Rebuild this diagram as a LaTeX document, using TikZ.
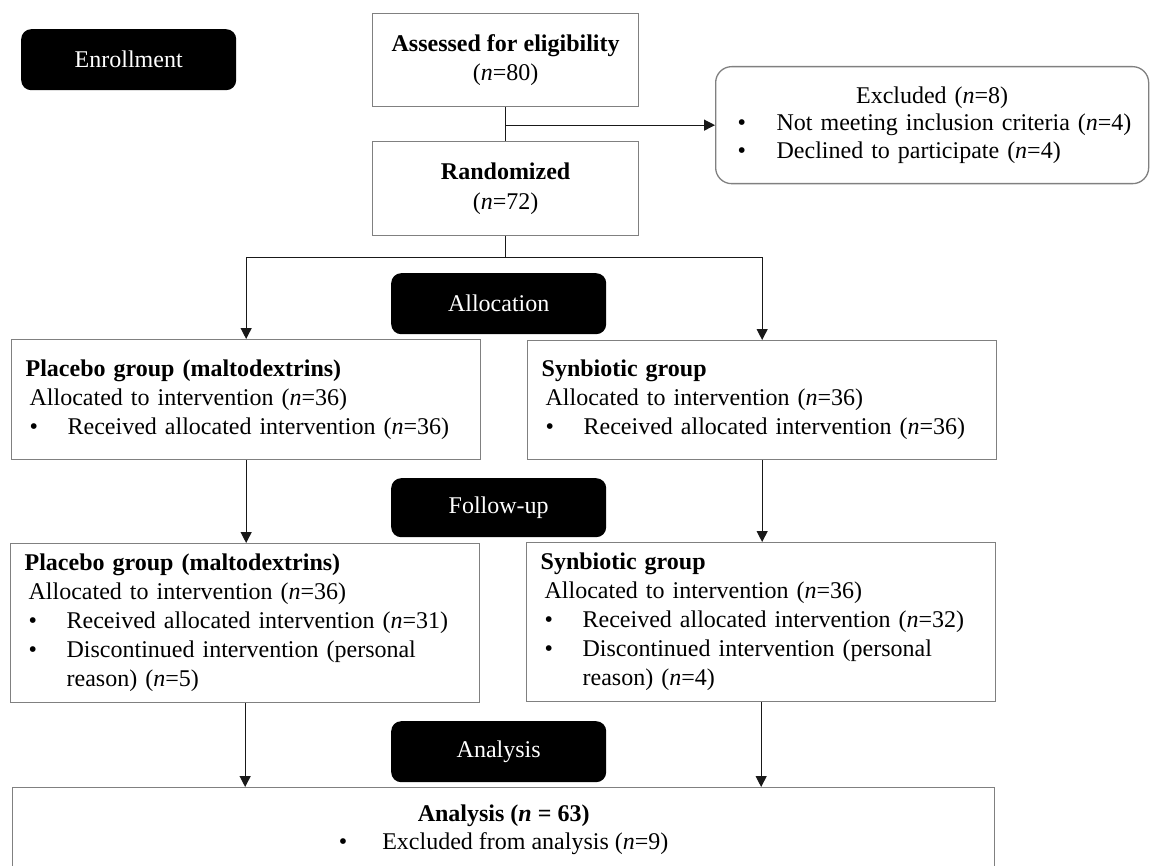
\documentclass[tikz,border=0pt]{standalone}
\usepackage{fontspec}
\setmainfont{Liberation Serif}
\usetikzlibrary{arrows.meta}
\definecolor{boxgray}{RGB}{128,128,128}
\definecolor{linecol}{RGB}{25,25,25}
\begin{document}
\begin{tikzpicture}[x=1pt,y=-1pt,
  txt/.style={font=\fontsize{24}{29}\selectfont},
  box/.style={txt, draw=boxgray, line width=1.3pt, rectangle, inner ysep=0pt, anchor=north west},
  listbox/.style={box, align=left, inner xsep=14pt, text width=441pt},
  stage/.style={txt, fill=black, text=white, rounded corners=10pt, inner sep=0pt, anchor=north west, minimum width=215pt, minimum height=61pt},
  conn/.style={draw=linecol, line width=1.2pt},
  arr/.style={conn, -{Triangle[width=11pt,length=11pt]}}
]
\clip (0,0) rectangle (1150,866);
\fill[white] (0,0) rectangle (1150,866);

% stage labels
\node[stage] (enr) at (21,29) {Enrollment};
\node[stage] (alloc) at (391,273) {Allocation};
\node[stage, minimum height=59pt] (fup) at (391,478) {Follow-up};
\node[stage] (anl) at (391,721) {Analysis};

% enrollment boxes
\node[box, align=center, minimum width=266pt, minimum height=93pt, font=\fontsize{24}{29}\selectfont] (assess) at (372,13)
  {\textbf{Assessed for eligibility}\\(\textit{n}=80)};
\node[box, align=center, minimum width=266pt, minimum height=94pt, font=\fontsize{24}{30}\selectfont] (rand) at (372,141)
  {\textbf{Randomized}\\(\textit{n}=72)};
\node[box, rounded corners=16pt, align=left, inner xsep=16pt, text width=401pt, minimum height=117pt, font=\fontsize{24}{27.5}\selectfont] (excl) at (715,66)
  {\makebox[401pt][c]{Excluded (\textit{n}=8)}\\
   \hspace*{6pt}\makebox[39pt][l]{\textbullet}Not meeting inclusion criteria (\textit{n}=4)\\
   \hspace*{6pt}\makebox[39pt][l]{\textbullet}Declined to participate (\textit{n}=4)};

% allocation
\node[listbox, minimum height=120pt] (p1) at (11,339)
  {\textbf{Placebo group (maltodextrins)}\\
   \hspace*{4pt}Allocated to intervention (\textit{n}=36)\\
   \hspace*{4pt}\makebox[38pt][l]{\textbullet}Received allocated intervention (\textit{n}=36)};
\node[listbox, minimum height=119pt] (s1) at (527,340)
  {\textbf{Synbiotic group}\\
   \hspace*{4pt}Allocated to intervention (\textit{n}=36)\\
   \hspace*{4pt}\makebox[38pt][l]{\textbullet}Received allocated intervention (\textit{n}=36)};

% follow-up
\node[listbox, minimum height=159pt] (p2) at (10,543)
  {\textbf{Placebo group (maltodextrins)}\\
   \hspace*{4pt}Allocated to intervention (\textit{n}=36)\\
   \hspace*{4pt}\makebox[38pt][l]{\textbullet}Received allocated intervention (\textit{n}=31)\\
   \hspace*{4pt}\makebox[38pt][l]{\textbullet}Discontinued intervention (personal\\
   \hspace*{42pt}reason) (\textit{n}=5)};
\node[listbox, minimum height=159pt] (s2) at (526,542)
  {\textbf{Synbiotic group}\\
   \hspace*{4pt}Allocated to intervention (\textit{n}=36)\\
   \hspace*{4pt}\makebox[38pt][l]{\textbullet}Received allocated intervention (\textit{n}=32)\\
   \hspace*{4pt}\makebox[38pt][l]{\textbullet}Discontinued intervention (personal\\
   \hspace*{42pt}reason) (\textit{n}=4)};

% analysis
\node[box, align=center, minimum width=982pt, minimum height=84pt, font=\fontsize{24}{28}\selectfont] (res) at (12,787)
  {\textbf{Analysis (\textit{n} = 63)}\\
   \textbullet\hspace{35pt}Excluded from analysis (\textit{n}=9)};

% connectors
\draw[conn] (assess) -- (rand);
\draw[arr] (assess.south |- excl.west) -- (excl.west);
\path (rand.south) ++(0,21) coordinate (br);
\draw[conn] (rand) -- (br);
\draw[arr] (br) -| (p1.north);
\draw[arr] (br) -| (s1.north);
\draw[arr] (p1.south) -- (p1.south |- p2.north);
\draw[arr] (s1.south) -- (s1.south |- s2.north);
\draw[arr] (p2.south) -- (p2.south |- res.north);
\draw[arr] (s2.south) -- (s2.south |- res.north);
\end{tikzpicture}
\end{document}
